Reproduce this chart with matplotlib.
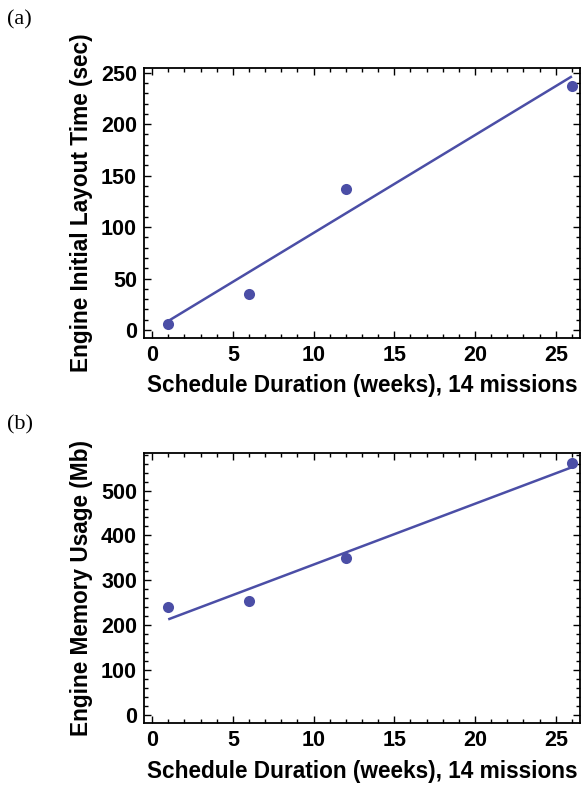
import matplotlib
matplotlib.use("Agg")
import matplotlib.pyplot as plt
from matplotlib.ticker import MultipleLocator

# ---- data ----
weeks = [1, 6, 12, 26]
layout_time = [6, 35, 137, 237]          # sec
memory_usage = [240, 254, 349, 562]      # Mb
fit_x = [1, 26]
fit_layout = [8.7, 246.5]
fit_memory = [213, 552]

xlabel = "Schedule Duration (weeks), 14 missions"
ylabel_a = "Engine Initial Layout Time (sec)"
ylabel_b = "Engine Memory Usage (Mb)"
x_ticks = [0, 5, 10, 15, 20, 25]
y_ticks_a = [0, 50, 100, 150, 200, 250]
y_ticks_b = [0, 100, 200, 300, 400, 500]

color = "#4b4ea6"
plt.rcParams["font.family"] = ["Liberation Sans", "DejaVu Sans"]
plt.rcParams["font.weight"] = "bold"

fig = plt.figure(figsize=(5.82, 7.87), dpi=100)
W, H = 582, 787

def make_axes(top_px, bottom_px):
    return fig.add_axes([144 / W, 1 - bottom_px / H, 436 / W, (bottom_px - top_px) / H])

ax_a = make_axes(68, 338)
ax_b = make_axes(453.3, 723.3)

def style(ax, yt, yminor, ylim, ylabel):
    ax.set_xlim(-0.5, 26.5)
    ax.set_ylim(*ylim)
    ax.set_xticks(x_ticks)
    ax.set_yticks(yt)
    ax.xaxis.set_minor_locator(MultipleLocator(1))
    ax.yaxis.set_minor_locator(MultipleLocator(yminor))
    ax.tick_params(which="both", direction="in", top=True, right=True,
                   labelsize=15.5, width=1, color="black")
    ax.tick_params(which="major", length=5, pad=5)
    ax.tick_params(which="minor", length=3)
    for lab in ax.get_xticklabels() + ax.get_yticklabels():
        lab.set_fontweight("bold")
    for s in ax.spines.values():
        s.set_linewidth(1.3)
    ax.set_xlabel(xlabel, fontsize=16.3, fontweight="bold", labelpad=6)
    ax.set_ylabel(ylabel, fontsize=16.3, fontweight="bold", labelpad=6)

ax_a.plot(fit_x, fit_layout, color=color, lw=1.8, solid_capstyle="butt")
ax_a.plot(weeks, layout_time, "o", color=color, ms=8, mec="none")
style(ax_a, y_ticks_a, 10, (-7.8, 254.6), ylabel_a)

ax_b.plot(fit_x, fit_memory, color=color, lw=1.8, solid_capstyle="butt")
ax_b.plot(weeks, memory_usage, "o", color=color, ms=8, mec="none")
style(ax_b, y_ticks_b, 20, (-18.5, 583), ylabel_b)

fig.text(7 / W, 1 - 20 / H, "(a)", family="Liberation Serif", fontsize=16,
         fontweight="normal", va="center", ha="left")
fig.text(7 / W, 1 - 425 / H, "(b)", family="Liberation Serif", fontsize=16,
         fontweight="normal", va="center", ha="left")

fig.savefig("out.png", dpi=100)
